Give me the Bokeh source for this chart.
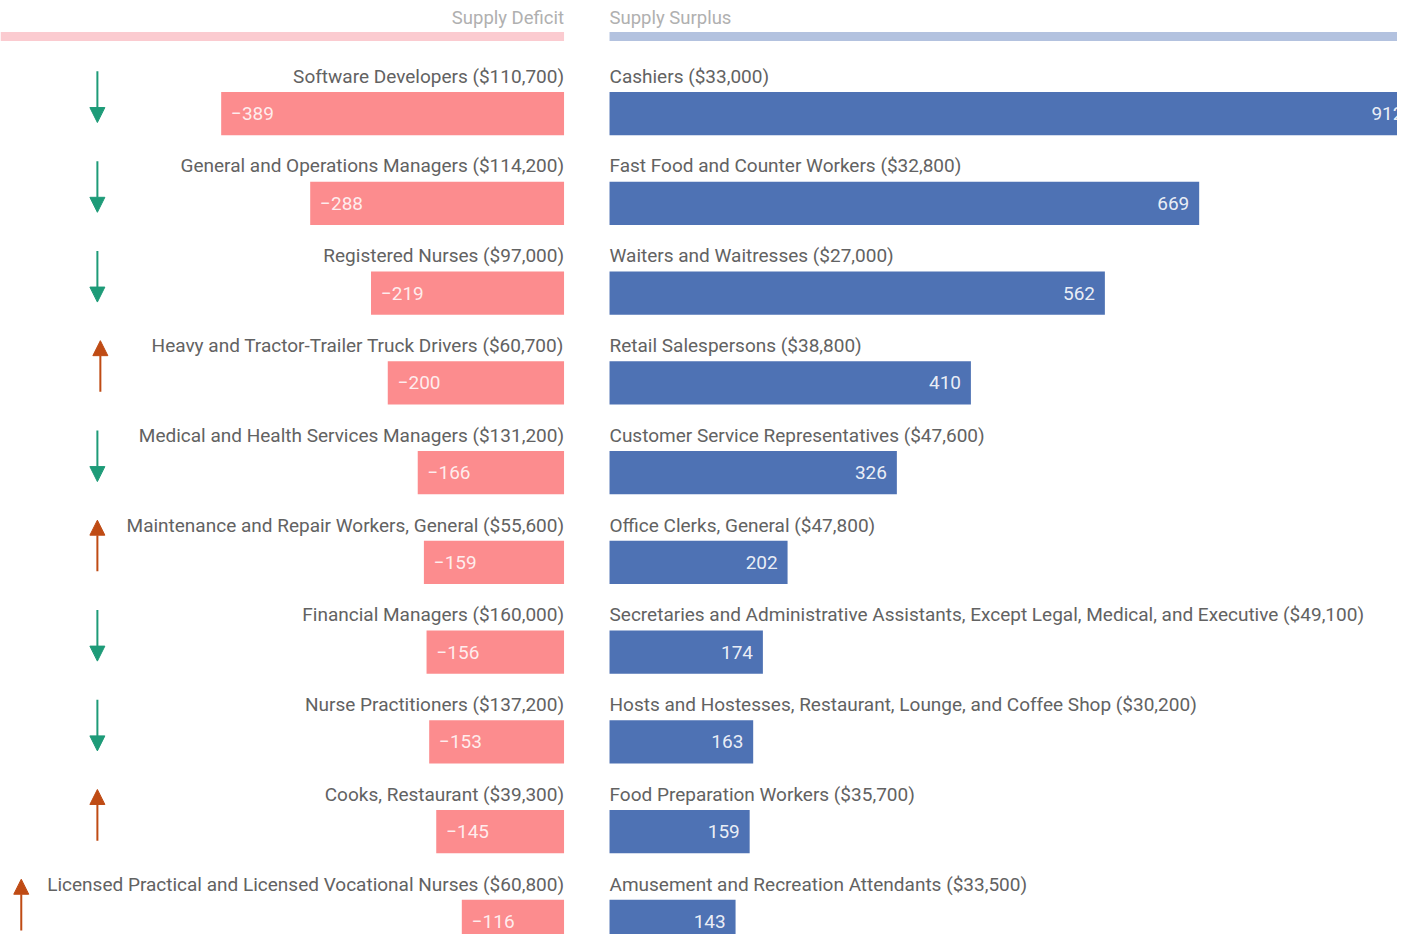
from bokeh.plotting import figure
from bokeh.models import ColumnDataSource, Range1d, Arrow, NormalHead
from bokeh.core.properties import value
from bokeh.embed import file_html
from bokeh.resources import INLINE

# ---------------- data ----------------
deficit_jobs = [
    "Software Developers", "General and Operations Managers", "Registered Nurses",
    "Heavy and Tractor-Trailer Truck Drivers", "Medical and Health Services Managers",
    "Maintenance and Repair Workers, General", "Financial Managers", "Nurse Practitioners",
    "Cooks, Restaurant", "Licensed Practical and Licensed Vocational Nurses",
]
deficit_wages = ["$110,700", "$114,200", "$97,000", "$60,700", "$131,200",
                 "$55,600", "$160,000", "$137,200", "$39,300", "$60,800"]
deficit_values = [-389, -288, -219, -200, -166, -159, -156, -153, -145, -116]
deficit_trend = ["down", "down", "down", "up", "down", "up", "down", "down", "up", "up"]

surplus_jobs = [
    "Cashiers", "Fast Food and Counter Workers", "Waiters and Waitresses",
    "Retail Salespersons", "Customer Service Representatives", "Office Clerks, General",
    "Secretaries and Administrative Assistants, Except Legal, Medical, and Executive",
    "Hosts and Hostesses, Restaurant, Lounge, and Coffee Shop",
    "Food Preparation Workers", "Amusement and Recreation Attendants",
]
surplus_wages = ["$33,000", "$32,800", "$27,000", "$38,800", "$47,600",
                 "$47,800", "$49,100", "$30,200", "$35,700", "$33,500"]
surplus_values = [912, 669, 562, 410, 326, 202, 174, 163, 159, 143]

header_left = "Supply Deficit"
header_right = "Supply Surplus"

# ---------------- layout constants ----------------
W, H = 1397, 934          # figure size (fits the window with the 8px page margin)
REF_W, REF_H = 1413, 950  # design canvas
S = 0.8915                # design pixels per job unit
ROW = 91.3                # design pixels per row
ZERO_PX = 570             # deficit zero line, design px
ROW0_PX = 115             # first bar centre, design px
GAP = 46 / S              # gap between the panels, in data units
PAD = 10 / S

x_start = -ZERO_PX / S
x_end = (REF_W - ZERO_PX) / S
y_top = -ROW0_PX / ROW
y_bot = (REF_H - ROW0_PX) / ROW

PINK = "#fc8c8e"
BLUE = "#4e72b4"
PINK_LIGHT = "#fbcbd0"
BLUE_LIGHT = "#b3c2df"
GREEN = "#1e9b78"
ORANGE = "#bf4b14"
TXT = "#626262"
FONT = value("Roboto")

p = figure(width=W, height=H, output_backend="svg", toolbar_location=None,
           x_range=Range1d(x_start, x_end), y_range=Range1d(y_bot, y_top),
           min_border=0, outline_line_color=None, background_fill_color="white",
           border_fill_color="white")
p.axis.visible = False
p.grid.visible = False

rows = list(range(len(deficit_values)))
label_dy = -38 / ROW
bar_h = 44 / ROW

# headers
hy_line = (36.5 - ROW0_PX) / ROW
hy_text = (17.5 - ROW0_PX) / ROW
p.segment(x0=[x_start], x1=[0], y0=[hy_line], y1=[hy_line], line_color=PINK_LIGHT,
          line_width=9, line_cap="butt")
p.segment(x0=[GAP], x1=[x_end], y0=[hy_line], y1=[hy_line], line_color=BLUE_LIGHT,
          line_width=9, line_cap="butt")
p.text(x=[0], y=[hy_text], text=[header_left], text_align="right", text_baseline="middle",
       text_font=FONT, text_font_size="18.5px", text_color="#b0b0b0")
p.text(x=[GAP], y=[hy_text], text=[header_right], text_align="left", text_baseline="middle",
       text_font=FONT, text_font_size="18.5px", text_color="#b0b0b0")

# deficit bars
dsrc = ColumnDataSource(dict(
    y=rows, v=deficit_values, zero=[0] * len(rows),
    label=[f"{j} ({w})" for j, w in zip(deficit_jobs, deficit_wages)],
    vlabel=[f"\u2212{abs(v)}" for v in deficit_values],
    vx=[v + PAD for v in deficit_values],
    ly=[r + label_dy for r in rows],
))
p.hbar(y="y", left="v", right="zero", height=bar_h, source=dsrc,
       fill_color=PINK, line_color=None)
p.text(x="zero", y="ly", text="label", source=dsrc, text_align="right",
       text_baseline="middle", text_font=FONT, text_font_size="19px", text_color=TXT)
p.text(x="vx", y="y", text="vlabel", source=dsrc, text_align="left",
       text_baseline="middle", text_font=FONT, text_font_size="19px",
       text_color="white", text_alpha=0.85)

# surplus bars
ssrc = ColumnDataSource(dict(
    y=rows, left=[GAP] * len(rows), right=[GAP + v for v in surplus_values],
    label=[f"{j} ({w})" for j, w in zip(surplus_jobs, surplus_wages)],
    vlabel=[str(v) for v in surplus_values],
    vx=[GAP + v - PAD for v in surplus_values],
    ly=[r + label_dy for r in rows],
))
p.hbar(y="y", left="left", right="right", height=bar_h, source=ssrc,
       fill_color=BLUE, line_color=None)
p.text(x="left", y="ly", text="label", source=ssrc, text_align="left",
       text_baseline="middle", text_font=FONT, text_font_size="19px", text_color=TXT)
p.text(x="vx", y="y", text="vlabel", source=ssrc, text_align="right",
       text_baseline="middle", text_font=FONT, text_font_size="19px",
       text_color="white", text_alpha=0.9)

# trend arrows (left margin)
arrow_px = [98, 98, 98, 101, 98, 98, 98, 98, 98, 21]
ax = [(px - ZERO_PX) / S for px in arrow_px]
top_off, bot_off = -0.47, 0.10
for trend, color in (("down", GREEN), ("up", ORANGE)):
    xs, ys0, ys1 = [], [], []
    for r, t, x in zip(rows, deficit_trend, ax):
        if t != trend:
            continue
        xs.append(x)
        if trend == "down":
            ys0.append(r + top_off); ys1.append(r + bot_off)
        else:
            ys0.append(r + bot_off); ys1.append(r + top_off)
    src = ColumnDataSource(dict(x0=xs, x1=xs, y0=ys0, y1=ys1))
    p.add_layout(Arrow(x_start="x0", y_start="y0", x_end="x1", y_end="y1", source=src,
                       line_color=color, line_width=2,
                       end=NormalHead(size=15, fill_color=color, line_color=color)))

open("out.html", "w").write(file_html(p, INLINE))
